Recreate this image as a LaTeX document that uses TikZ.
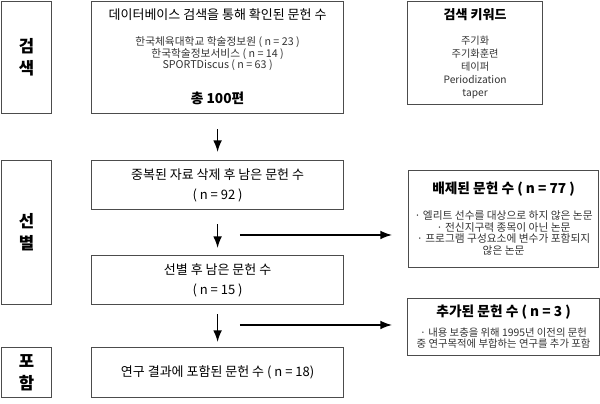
\documentclass[tikz,border=0pt]{standalone}
\usepackage{fontspec}
\setmainfont{Noto Sans CJK KR}
\usetikzlibrary{positioning,arrows.meta,calc}

\begin{document}
\begin{tikzpicture}[
  x=0.02cm,y=-0.02cm,
  font=\fontsize{7.4}{11.4}\selectfont,>=Latex,
  frame/.style={draw=black!70,line width=0.7pt,anchor=north west,align=center},
  stage/.style={frame,minimum width=1cm,font=\fontsize{9.5}{12.5}\selectfont\bfseries},
  box/.style={frame,minimum width=5.04cm},
  head/.style={font=\fontsize{7.4}{9}\selectfont\bfseries},
  small/.style={font=\fontsize{6.1}{6.6}\selectfont,text=black!80,align=center},
  arr/.style={->,line width=0.8pt},
]
  \useasboundingbox (0,0) rectangle (600,404);

  % stages
  \node[stage,minimum height=2.24cm] (s1) at (1,1) {검\\색};
  \node[stage,minimum height=2.88cm] (s2) at (1,160) {선\\별};
  \node[stage,minimum height=1cm] (s3) at (1,347) {포\\함};

  % main column
  \node[box,minimum height=2.24cm] (b1) at (91,1) {};
  \node (b1t) at ($(b1.north)+(0,14)$) {데이터베이스 검색을 통해 확인된 문헌 수};
  \node[small] (b1l) at ($(b1.north)+(0,53)$)
    {한국체육대학교 학술정보원 ( n = 23 )\\한국학술정보서비스 ( n = 14 )\\SPORTDiscus ( n = 63 )};
  \node[head,font=\fontsize{7.8}{9}\selectfont\bfseries] (b1n) at ($(b1.north)+(0,97)$) {총 100편};

  \node[box,minimum height=0.98cm] (b2) at (91,160) {중복된 자료 삭제 후 남은 문헌 수\\( n = 92 )};
  \node[box,minimum height=0.98cm] (b3) at (91,255) {선별 후 남은 문헌 수\\( n = 15 )};
  \node[box,minimum height=1cm] (b4) at (91,347) {연구 결과에 포함된 문헌 수 ( n = 18)};

  % side boxes
  \node[frame,minimum width=2.7cm,minimum height=2.06cm] (kw) at (407,1) {};
  \node[head] (kwt) at ($(kw.north)+(0,14)$) {검색 키워드};
  \node[small,font=\fontsize{5.8}{7.4}\selectfont] (kwl) at ($(kw.north)+(0,66)$)
    {주기화\\주기화훈련\\테이퍼\\Periodization\\taper};

  \node[frame,minimum width=3.8cm,minimum height=1.94cm] (ex) at (408,170) {};
  \node[head,font=\fontsize{7.8}{9}\selectfont\bfseries] (ext) at ($(ex.north)+(0,19)$) {배제된 문헌 수 ( n = 77 )};
  \node[small] (exl) at ($(ex.north)+(0,63)$)
    {· 엘리트 선수를 대상으로 하지 않은 논문\\· 전신지구력 종목이 아닌 논문\\· 프로그램 구성요소에 변수가 포함되지\\않은 논문};

  \node[frame,minimum width=3.84cm,minimum height=1.14cm] (add) at (407,298) {};
  \node[head,font=\fontsize{7.8}{9}\selectfont\bfseries] (addt) at ($(add.north)+(0,14)$) {추가된 문헌 수 ( n = 3 )};
  \node[small,font=\fontsize{5.9}{6.4}\selectfont] (addl) at ($(add.north)+(0,40.5)$)
    {· 내용 보충을 위해 1995년 이전의 문헌\\중 연구목적에 부합하는 연구를 추가 포함};

  % arrows
  \draw[arr,shorten <=0.3cm,shorten >=0.16cm] (b1.south) -- (b2.north);
  \draw[arr,shorten <=0.28cm,shorten >=0.14cm] (b2.south) -- (b3.north);
  \draw[arr,shorten <=0.18cm,shorten >=0.1cm] (b3.south) -- (b4.north);

  \coordinate (j1) at (240,235);
  \coordinate (j2) at (240,325);
  \draw[arr,shorten >=0.32cm] (j1) -- (j1 -| ex.west);
  \draw[arr,shorten >=0.3cm] (j2) -- (j2 -| add.west);
\end{tikzpicture}
\end{document}
